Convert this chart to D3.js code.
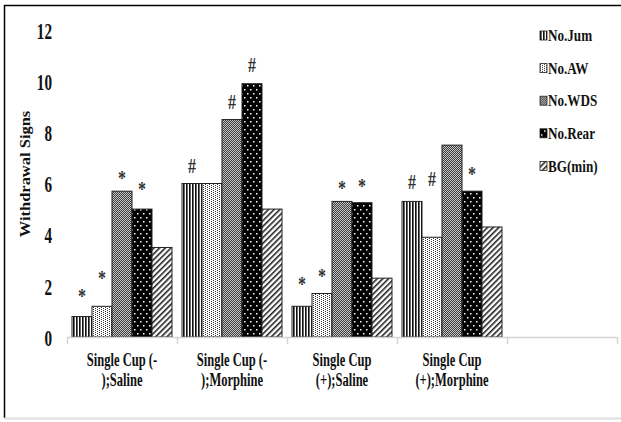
<!DOCTYPE html>
<html>
<head>
<meta charset="utf-8">
<script src="https://cdn.jsdelivr.net/npm/d3@7"></script>
<style>
  html, body { margin: 0; padding: 0; background: #fff; }
  svg { display: block; font-family: "Liberation Serif", "Times New Roman", serif; font-weight: bold; }
</style>
</head>
<body>
<svg id="chart" width="621" height="422"></svg>
<script>
// Treatment groups (each label wraps onto two lines)
const categories = [
  ["Single Cup (-", ");Saline"],
  ["Single Cup (-", ");Morphine"],
  ["Single Cup", "(+);Saline"],
  ["Single Cup", "(+);Morphine"]
];
const seriesNames = ["No.Jum", "No.AW", "No.WDS", "No.Rear", "BG(min)"];

// Mean withdrawal signs per group
const jumValues  = [0.8, 6.0, 1.2, 5.3];
const awValues   = [1.2, 6.0, 1.7, 3.9];
const wdsValues  = [5.7, 8.5, 5.3, 7.5];
const rearValues = [5.0, 9.9, 5.25, 5.7];
const bgValues   = [3.5, 5.0, 2.3, 4.3];

// Standard errors (used to place the significance marks)
const jumSem  = [0.4, 0.3, 0.5, 0.35];
const awSem   = [0.7, 0.3, 0.3, 1.9];
const wdsSem  = [0.13, 0.3, 0.12, 0.3];
const rearSem = [0.4, 0.33, 0.28, 0.3];
const bgSem   = [0.3, 0.3, 0.3, 0.3];

// Significance marks
const jumMarks  = ["*", "#", "*", "#"];
const awMarks   = ["*", "", "*", "#"];
const wdsMarks  = ["*", "#", "*", ""];
const rearMarks = ["*", "#", "*", "*"];
const bgMarks   = ["", "", "", ""];

const yTicks = [0, 2, 4, 6, 8, 10, 12];

const seriesValues = [jumValues, awValues, wdsValues, rearValues, bgValues];
const seriesSem = [jumSem, awSem, wdsSem, rearSem, bgSem];
const seriesMarks = [jumMarks, awMarks, wdsMarks, rearMarks, bgMarks];
const patternIds = ["p-jum", "p-aw", "p-wds", "p-rear", "p-bg"];

const svg = d3.select("#chart");

// ---- fill patterns ----
const defs = svg.append("defs");
{
  const p = defs.append("pattern").attr("id", "p-jum").attr("patternUnits", "userSpaceOnUse")
    .attr("width", 3).attr("height", 3);
  p.append("rect").attr("width", 3).attr("height", 3).attr("fill", "#fff");
  p.append("rect").attr("x", 0).attr("width", 1).attr("height", 3).attr("fill", "#111");
  p.append("rect").attr("x", 1).attr("width", 1).attr("height", 3).attr("fill", "#666");
}
{
  const p = defs.append("pattern").attr("id", "p-aw").attr("patternUnits", "userSpaceOnUse")
    .attr("width", 4).attr("height", 2);
  p.append("rect").attr("width", 4).attr("height", 2).attr("fill", "#fff");
  p.append("rect").attr("x", 0).attr("y", 0).attr("width", 1).attr("height", 1).attr("fill", "#333");
  p.append("rect").attr("x", 2).attr("y", 1).attr("width", 1).attr("height", 1).attr("fill", "#333");
}
{
  const p = defs.append("pattern").attr("id", "p-wds").attr("patternUnits", "userSpaceOnUse")
    .attr("width", 2).attr("height", 2);
  p.append("rect").attr("width", 2).attr("height", 2).attr("fill", "#c8c8c8");
  p.append("rect").attr("x", 0).attr("y", 0).attr("width", 1).attr("height", 1).attr("fill", "#3a3a3a");
  p.append("rect").attr("x", 1).attr("y", 1).attr("width", 1).attr("height", 1).attr("fill", "#3a3a3a");
}
{
  const p = defs.append("pattern").attr("id", "p-rear").attr("patternUnits", "userSpaceOnUse")
    .attr("width", 6).attr("height", 8);
  p.append("rect").attr("width", 6).attr("height", 8).attr("fill", "#000");
  p.append("rect").attr("x", 1).attr("y", 1).attr("width", 1.5).attr("height", 1.5).attr("fill", "#fff");
  p.append("rect").attr("x", 4).attr("y", 5).attr("width", 1.5).attr("height", 1.5).attr("fill", "#fff");
}
{
  const p = defs.append("pattern").attr("id", "p-bg").attr("patternUnits", "userSpaceOnUse")
    .attr("width", 4).attr("height", 4).attr("patternTransform", "rotate(45)");
  p.append("rect").attr("width", 4).attr("height", 4).attr("fill", "#fff");
  p.append("rect").attr("x", 0).attr("width", 1.6).attr("height", 4).attr("fill", "#222");
}

// ---- frame ----
svg.append("line").attr("x1", 4).attr("y1", 5.5).attr("x2", 621).attr("y2", 5.5)
  .attr("stroke", "#000").attr("stroke-width", 1.5);
svg.append("line").attr("x1", 4.5).attr("y1", 5).attr("x2", 4.5).attr("y2", 418)
  .attr("stroke", "#000").attr("stroke-width", 1.5);
svg.append("line").attr("x1", 4).attr("y1", 418.5).attr("x2", 621).attr("y2", 418.5)
  .attr("stroke", "#ddd").attr("stroke-width", 2);

// ---- scales ----
const slots = d3.range(categories.length + 1); // one trailing empty slot
const x = d3.scaleBand().domain(slots).range([67, 617]).padding(0);
const xInner = d3.scaleBand().domain(seriesNames).range([5, x.bandwidth() - 5]).padding(0);
const y = d3.scaleLinear().domain([0, 12]).range([337, 30]);

// ---- y axis (labels only) ----
const yAxis = svg.append("g").attr("transform", "translate(52,0)")
  .call(d3.axisLeft(y).tickValues(yTicks).tickSize(0).tickPadding(0).tickFormat(d3.format("d")));
yAxis.select(".domain").remove();
yAxis.selectAll("text")
  .attr("x", null)
  .attr("dy", "0.36em")
  .attr("transform", "scale(0.66,1)")
  .attr("font-family", "Liberation Serif, Times New Roman, serif")
  .attr("font-weight", "bold")
  .attr("font-size", 23)
  .attr("fill", "#111");

svg.append("text")
  .attr("transform", `translate(25,174) rotate(-90) scale(1,0.85)`)
  .attr("text-anchor", "middle")
  .attr("dy", "0.35em")
  .attr("font-size", 16.5)
  .attr("fill", "#111")
  .text("Withdrawal Signs");

// ---- bars ----
const groups = svg.append("g").selectAll("g")
  .data(categories.map((c, i) => i))
  .join("g")
  .attr("transform", i => `translate(${x(i)},0)`);

seriesNames.forEach((name, s) => {
  groups.append("rect")
    .attr("x", xInner(name))
    .attr("width", xInner.bandwidth())
    .attr("y", i => y(seriesValues[s][i]))
    .attr("height", i => y(0) - y(seriesValues[s][i]))
    .attr("fill", `url(#${patternIds[s]})`)
    .attr("stroke", "#222")
    .attr("stroke-width", 1);

  groups.append("text")
    .attr("transform", i =>
      `translate(${xInner(name) + xInner.bandwidth() / 2},${y(seriesValues[s][i] + seriesSem[s][i]) - 3}) scale(0.8,1)`)
    .attr("text-anchor", "middle")
    .attr("font-size", 20)
    .attr("fill", "#333")
    .text(i => seriesMarks[s][i]);
});

// ---- x axis baseline and boundary ticks ----
svg.append("line")
  .attr("x1", x.range()[0]).attr("x2", x.range()[1])
  .attr("y1", y(0) + 0.5).attr("y2", y(0) + 0.5)
  .attr("stroke", "#d4d4d4").attr("stroke-width", 1.5);
svg.append("g").selectAll("line")
  .data(slots.map(i => x(i)).concat([x.range()[1]]))
  .join("line")
  .attr("x1", d => d + 0.5).attr("x2", d => d + 0.5)
  .attr("y1", y(0)).attr("y2", y(0) + 7)
  .attr("stroke", "#d4d4d4").attr("stroke-width", 1.5);

// ---- category labels ----
categories.forEach((lines, i) => {
  const cx = x(i) + x.bandwidth() / 2;
  lines.forEach((line, k) => {
    svg.append("text")
      .attr("transform", `translate(${cx},${366 + k * 20}) scale(0.66,1)`)
      .attr("text-anchor", "middle")
      .attr("font-size", 19)
      .attr("fill", "#111")
      .text(line);
  });
});

// ---- legend ----
const legend = svg.append("g").selectAll("g")
  .data(seriesNames)
  .join("g")
  .attr("transform", (d, i) => `translate(540,${35.5 + i * 32.6})`);
legend.append("rect")
  .attr("x", 0).attr("y", -4.5).attr("width", 7).attr("height", 9)
  .attr("fill", (d, i) => `url(#${patternIds[i]})`)
  .attr("stroke", "#222").attr("stroke-width", 0.8);
legend.append("text")
  .attr("transform", "translate(8,0) scale(0.82,1)")
  .attr("dy", "0.35em")
  .attr("font-size", 16)
  .attr("fill", "#111")
  .text(d => d);
</script>
</body>
</html>
